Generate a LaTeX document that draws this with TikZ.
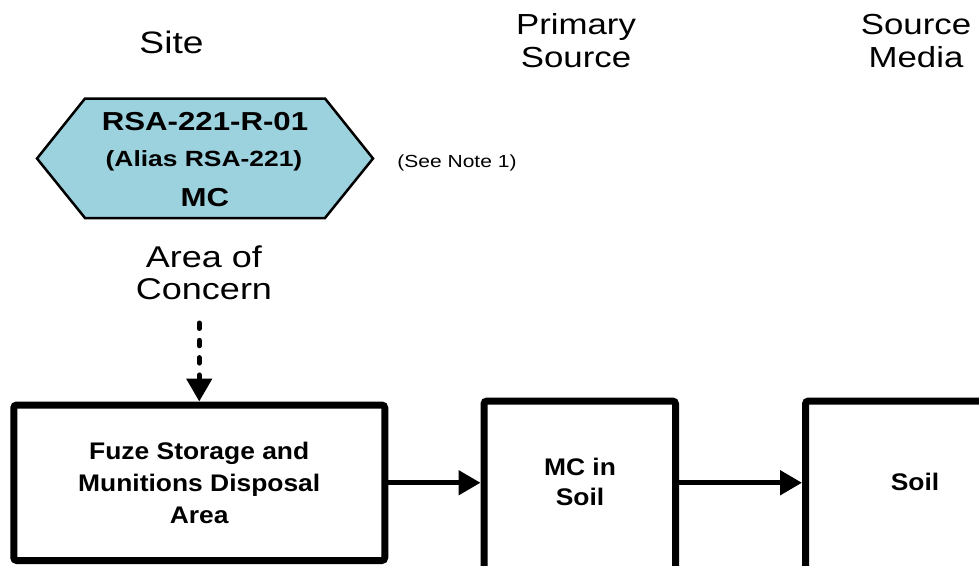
\documentclass[tikz,border=0pt]{standalone}
\usepackage{fontspec}
\setmainfont{Liberation Sans}[FakeStretch=1.2]
\newfontfamily\boxfont{Liberation Sans}[FakeStretch=1.1]
\usetikzlibrary{arrows.meta}
\definecolor{hexblue}{RGB}{155,210,222}
\tikzset{
  box/.style={draw=black, line width=7pt, rounded corners=3pt, fill=white, align=center,
    font=\boxfont\bfseries\fontsize{24}{32}\selectfont, inner sep=0pt},
  boxtext/.style={align=center, inner sep=0pt, font=\boxfont\bfseries\fontsize{24}{30}\selectfont},
  flow/.style={line width=5pt, -{Triangle[length=22pt,width=24pt]}},
  dflow/.style={line width=5pt, line cap=round, dash pattern=on 5.5pt off 11.8pt,
    -{Triangle[length=23pt,width=25pt]}},
  head/.style={align=center, font=\fontsize{29}{33}\selectfont, anchor=base, inner sep=0pt},
  hexlbl/.style={anchor=base, inner sep=0pt, font=\bfseries\fontsize{26}{26}\selectfont},
}
\begin{document}
\begin{tikzpicture}[x=1pt, y=-1pt]
\useasboundingbox (0,0) rectangle (979,565);
\clip (0,0) rectangle (979,565);
\fill[white] (0,0) rectangle (979,565);

% headings (anchor base = baseline of last line)
\node[head, font=\fontsize{31}{37}\selectfont] (site) at (171.5,53) {Site};
\node[head] (prim) at (576,67.5) {Primary\\Source};
\node[head] (media) at (916,67.5) {Source\\Media};

% hexagon
\coordinate (hL) at (37,158.5);
\coordinate (hTL) at (85,98.5);
\coordinate (hTR) at (325,98.5);
\coordinate (hR) at (373,158.5);
\coordinate (hBR) at (325,218);
\coordinate (hBL) at (85,218);
\draw[fill=hexblue, line width=2.5pt, line join=miter] (hL) -- (hTL) -- (hTR) -- (hR) -- (hBR) -- (hBL) -- cycle;
\node[hexlbl] (hexA) at (205,130) {RSA-221-R-01};
\node[hexlbl, font=\bfseries\fontsize{22}{22}\selectfont] (hexB) at (204,166) {(Alias RSA-221)};
\node[hexlbl] (hexC) at (205,206.5) {MC};
\node[anchor=base, inner sep=0pt, font=\fontsize{17.5}{20}\selectfont] (note) at (457,167) {(See Note 1)};

% area of concern
\node[head, font=\fontsize{30}{32}\selectfont] (aoc) at (204,299) {Area of\\Concern};
\coordinate (dstart) at (199.25,323);

% boxes
\node[box, minimum width=371pt, minimum height=155.5pt] (box1) at (199.25,482.75)
  {Fuze Storage and\\Munitions Disposal\\Area};
\node[box, minimum width=191.5pt, minimum height=170pt] (box2) at (579.75,486) {};
\node[boxtext] (box2txt) at (580,482) {MC in\\Soil};
\node[box, minimum width=219pt, minimum height=170pt] (box3) at (915,486) {};
\node[boxtext] (box3txt) at (915,481.5) {Soil};

% connectors
\draw[dflow] (dstart) -- (box1.north);
\draw[flow] (box1.east) -- (box1.east -| box2.west);
\draw[flow] (box1.east -| box2.east) -- (box1.east -| box3.west);
\end{tikzpicture}
\end{document}
